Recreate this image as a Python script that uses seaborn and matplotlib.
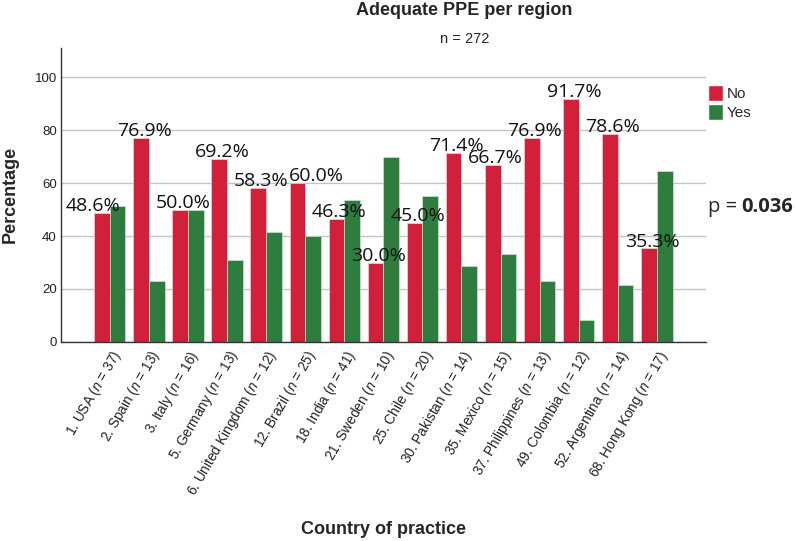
import pandas as pd
import matplotlib.pyplot as plt
import seaborn as sns
from matplotlib.patches import Patch

countries = ['1. USA', '2. Spain', '3. Italy', '5. Germany', '6. United Kingdom',
             '12. Brazil', '18. India', '21. Sweden', '25. Chile', '30. Pakistan',
             '35. Mexico', '37. Philippines', '49. Colombia', '52. Argentina', '68. Hong Kong']
n_resp = [37, 13, 16, 13, 12, 25, 41, 10, 20, 14, 15, 13, 12, 14, 17]
pct_no = [48.6, 76.9, 50.0, 69.2, 58.3, 60.0, 46.3, 30.0, 45.0, 71.4, 66.7, 76.9, 91.7, 78.6, 35.3]
pct_yes = [51.4, 23.1, 50.0, 30.8, 41.7, 40.0, 53.7, 70.0, 55.0, 28.6, 33.3, 23.1, 8.3, 21.4, 64.7]

sns.set_style('white')
plt.rcParams['font.family'] = ['Liberation Sans', 'DejaVu Sans']
plt.rcParams['mathtext.fontset'] = 'custom'
plt.rcParams['mathtext.rm'] = 'Liberation Sans'
plt.rcParams['mathtext.it'] = 'Liberation Sans:italic'

labels = [f'{c} ($\\mathit{{n}}$ = {n})' for c, n in zip(countries, n_resp)]
df = pd.DataFrame({
    'country': labels * 2,
    'pct': pct_no + pct_yes,
    'answer': ['No'] * len(labels) + ['Yes'] * len(labels),
})

red = '#D21F3A'
green = '#2E7D3F'

fig = plt.figure(figsize=(7.95, 5.41), dpi=100)
ax = fig.add_axes([0.0767, 0.368, 0.811, 0.543])

sns.barplot(data=df, x='country', y='pct', hue='answer', palette=[red, green],
            saturation=1, width=0.8, ax=ax, legend=False,
            edgecolor='#f2d4d8', linewidth=0.5)
for p in ax.containers[1]:
    p.set_edgecolor('#cfe3d2')

anns = ax.bar_label(ax.containers[0], labels=[f'{v:.1f}%' for v in pct_no], padding=-1.5,
                    fontsize=14, family='Open Sans', color='#111111')
# spss nudges the value labels sideways a bit (px)
nudge = {0: -9, 5: 19}
for i, a in enumerate(anns):
    a.xyann = (nudge.get(i, 3) * 0.72, a.xyann[1])

ax.set_ylim(0, 111)
ax.set_xlim(-1.25, len(labels) + 0.25)
ax.set_yticks([0, 20, 40, 60, 80, 100])
ax.yaxis.grid(True, color='#c4c4c4', linewidth=1)
ax.set_axisbelow(True)
for s in ['top', 'right']:
    ax.spines[s].set_visible(False)
for s in ['left', 'bottom']:
    ax.spines[s].set_color('#333333')
    ax.spines[s].set_linewidth(1)
ax.tick_params(axis='y', length=0, labelsize=9.5, colors='#222222', pad=3)
ax.tick_params(axis='x', length=0, labelsize=9.8, colors='#222222', pad=4)
ax.set_xticks(range(len(labels)))
ax.set_xticklabels(labels, rotation=60, ha='right', rotation_mode='anchor')
ax.set_xlabel('')
ax.set_ylabel('')

fig.text(0.013, 0.64, 'Percentage', rotation=90, fontsize=13, fontweight='bold',
         ha='center', va='center')
fig.text(0.4825, 0.013, 'Country of practice', fontsize=13, fontweight='bold',
         ha='center', va='baseline')
fig.text(0.584, 0.972, 'Adequate PPE per region', fontsize=13, fontweight='bold',
         ha='center', va='baseline')
fig.text(0.584, 0.921, 'n = 272', fontsize=10.5, ha='center', va='baseline')

handles = [Patch(facecolor=red, label='No'), Patch(facecolor=green, label='Yes')]
ax.legend(handles=handles, loc='upper left', bbox_to_anchor=(1.003, 0.875), frameon=False,
          handlelength=1.0, handleheight=1.2, handletextpad=0.25, labelspacing=0.2,
          fontsize=11, borderaxespad=0, borderpad=0)

fig.text(0.890, 0.617, 'p = ', fontsize=14.5, family='Open Sans', ha='left', va='center')
fig.text(0.932, 0.617, '0.036', fontsize=14.5, family='Open Sans', fontweight='bold',
         ha='left', va='center')

fig.savefig('out.png', dpi=100)
